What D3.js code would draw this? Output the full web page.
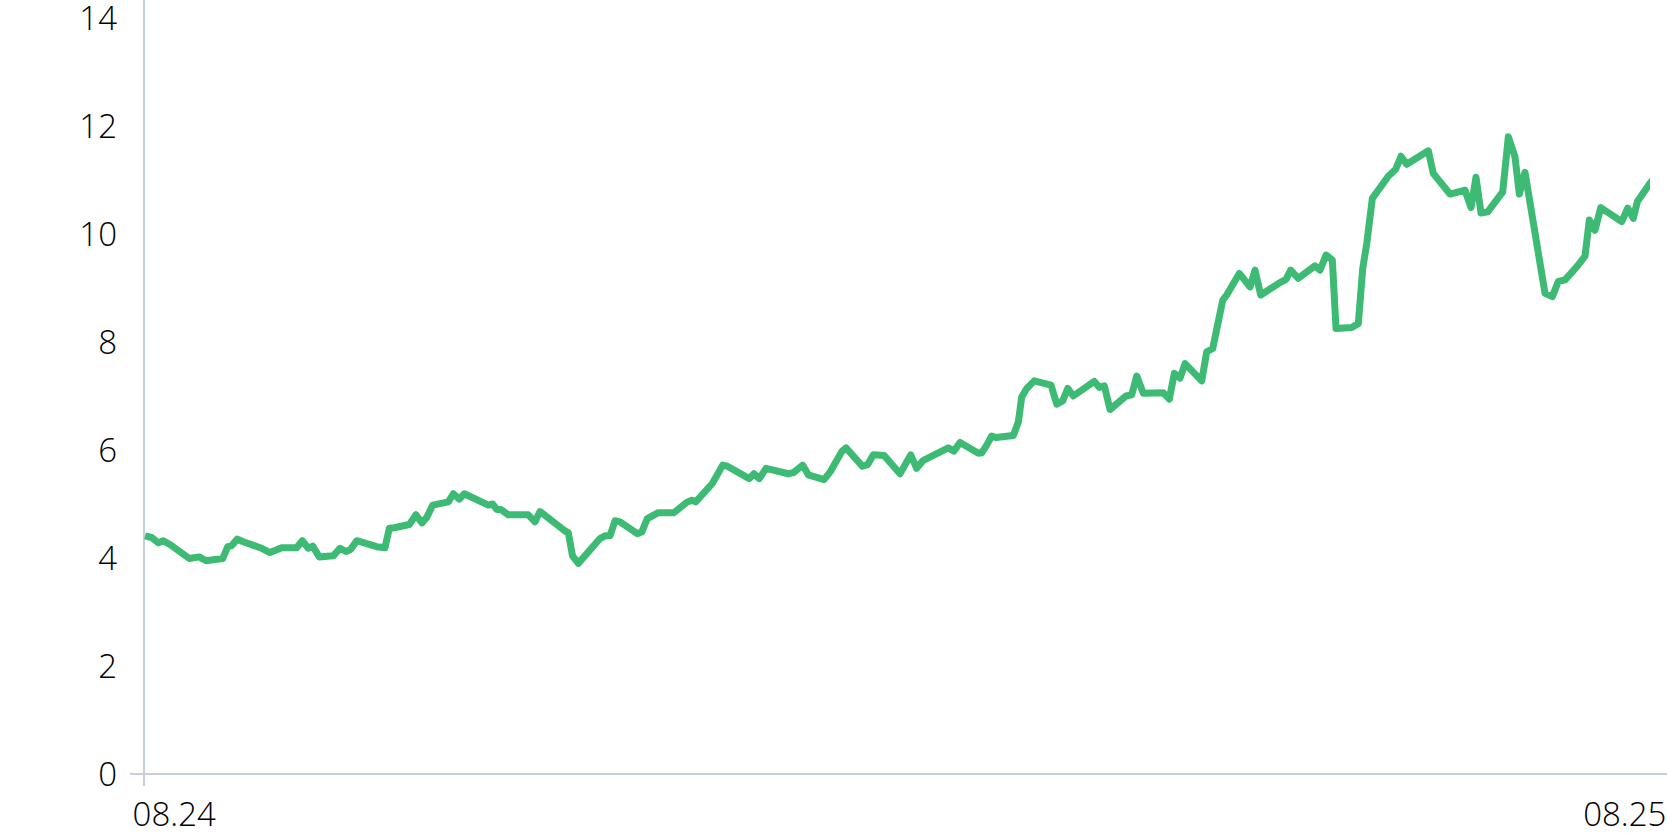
<!DOCTYPE html>
<html>
<head>
<meta charset="utf-8">
<script src="https://cdn.jsdelivr.net/npm/d3@7"></script>
<style>
  html, body { margin: 0; padding: 0; background: #fff; }
  svg { display: block; }
  .tick-label { font-family: "Open Sans", "Noto Sans", sans-serif; font-weight: 300; font-size: 33px; fill: #000; }
</style>
</head>
<body>
<div id="chart"></div>
<script>
// Hours since 08.24 00:00 and the matching values
const hours = [
  -0.483, -0.373, -0.263, -0.181, -0.070, 0.250, 0.415, 0.526, 0.802, 0.885,
  0.951, 1.044, 1.143, 1.447, 1.585, 1.778, 2.026, 2.119, 2.218, 2.291,
  2.400, 2.632, 2.743, 2.842, 2.920, 3.019, 3.350, 3.487, 3.559, 3.641,
  3.890, 4.000, 4.100, 4.177, 4.277, 4.535, 4.618, 4.717, 4.800, 5.197,
  5.269, 5.336, 5.402, 5.527, 5.858, 5.969, 6.052, 6.466, 6.520, 6.590,
  6.686, 7.045, 7.127, 7.210, 7.293, 7.376, 7.662, 7.735, 7.827, 8.009,
  8.269, 8.479, 8.562, 8.628, 8.903, 9.075, 9.151, 9.515, 9.593, 9.680,
  9.791, 10.160, 10.243, 10.398, 10.491, 10.751, 10.850, 11.044, 11.115, 11.385,
  11.474, 11.567, 11.744, 12.008, 12.185, 12.284, 12.394, 12.807, 12.902, 13.001,
  13.304, 13.360, 13.443, 13.525, 13.597, 13.883, 13.966, 14.022, 14.105, 14.230,
  14.507, 14.601, 14.700, 14.783, 14.876, 15.223, 15.306, 15.389, 15.483, 15.748,
  15.842, 15.925, 16.034, 16.365, 16.464, 16.547, 16.641, 16.724, 17.000, 17.083,
  17.182, 17.347, 17.413, 17.622, 17.799, 17.882, 17.976, 18.295, 18.395, 18.472,
  18.598, 18.874, 18.957, 19.057, 19.161, 19.222, 19.482, 19.591, 19.664, 19.730,
  19.823, 20.087, 20.210, 20.297, 20.392, 20.749, 20.832, 21.108, 21.356, 21.456,
  21.538, 21.621, 21.732, 21.980, 22.073, 22.183, 22.255, 22.349, 22.680, 22.801,
  22.900, 23.011, 23.204, 23.342, 23.413, 23.507, 23.602, 23.949, 24.048, 24.141,
  24.208, 24.417, 24.500
];
const values = [
  4.41, 4.38, 4.28, 4.32, 4.25, 3.99, 4.02, 3.95, 3.99, 4.21,
  4.23, 4.35, 4.30, 4.18, 4.10, 4.19, 4.19, 4.32, 4.18, 4.22,
  4.02, 4.04, 4.18, 4.12, 4.16, 4.32, 4.21, 4.19, 4.55, 4.56,
  4.62, 4.80, 4.65, 4.75, 4.98, 5.04, 5.19, 5.09, 5.19, 4.98,
  5.00, 4.90, 4.90, 4.80, 4.80, 4.67, 4.86, 4.50, 4.47, 4.04,
  3.90, 4.36, 4.41, 4.41, 4.69, 4.67, 4.45, 4.48, 4.73, 4.84,
  4.84, 5.03, 5.07, 5.04, 5.38, 5.72, 5.70, 5.47, 5.56, 5.47,
  5.66, 5.56, 5.58, 5.72, 5.54, 5.45, 5.59, 5.97, 6.04, 5.70,
  5.73, 5.91, 5.90, 5.56, 5.91, 5.66, 5.81, 6.04, 5.98, 6.14,
  5.94, 5.95, 6.09, 6.26, 6.23, 6.27, 6.52, 6.98, 7.14, 7.28,
  7.20, 6.85, 6.91, 7.14, 7.00, 7.27, 7.16, 7.19, 6.75, 7.00,
  7.02, 7.37, 7.05, 7.06, 6.94, 7.42, 7.33, 7.60, 7.28, 7.82,
  7.88, 8.77, 8.87, 9.27, 9.02, 9.33, 8.87, 9.10, 9.16, 9.33,
  9.18, 9.41, 9.33, 9.61, 9.52, 8.25, 8.27, 8.34, 9.36, 9.82,
  10.66, 11.07, 11.20, 11.44, 11.29, 11.54, 11.12, 10.74, 10.81, 10.49,
  11.05, 10.39, 10.41, 10.78, 11.80, 11.43, 10.74, 11.14, 8.90, 8.84,
  9.12, 9.15, 9.39, 9.59, 10.26, 10.07, 10.49, 10.23, 10.48, 10.29,
  10.60, 10.94, 11.05
];
const yTicks = [0, 2, 4, 6, 8, 10, 12, 14];
const xTickHours = [0, 24];
const xTickLabels = ["08.24", "08.25"];

const width = 1667;
const height = 833;
const margin = { top: 18, right: 17, bottom: 59, left: 144 };

const data = hours.map((h, i) => ({ h: h, v: values[i] }));

const xScale = d3.scaleLinear()
  .domain([-0.5, 24.417])
  .range([margin.left, width - margin.right]);

const yScale = d3.scaleLinear()
  .domain([0, 14])
  .range([height - margin.bottom, margin.top]);

const svg = d3.select("#chart")
  .append("svg")
  .attr("width", width)
  .attr("height", height);

const axisColor = "#c6cfd9";

// y axis line
svg.append("line")
  .attr("x1", margin.left).attr("x2", margin.left)
  .attr("y1", 0).attr("y2", yScale(0) + 12)
  .attr("stroke", axisColor)
  .attr("stroke-width", 2);

// x axis line
svg.append("line")
  .attr("x1", margin.left - 14).attr("x2", width)
  .attr("y1", yScale(0)).attr("y2", yScale(0))
  .attr("stroke", axisColor)
  .attr("stroke-width", 2);

// y tick labels
svg.append("g")
  .selectAll("text")
  .data(yTicks)
  .join("text")
  .attr("class", "tick-label")
  .attr("x", margin.left - 27)
  .attr("y", d => yScale(d))
  .attr("dy", "0.36em")
  .attr("text-anchor", "end")
  .text(d => d);

// x tick labels
svg.append("g")
  .selectAll("text")
  .data(xTickHours)
  .join("text")
  .attr("class", "tick-label")
  .attr("x", d => xScale(d))
  .attr("y", yScale(0) + 52)
  .attr("text-anchor", "middle")
  .text((d, i) => xTickLabels[i]);

svg.append("clipPath")
  .attr("id", "plot-clip")
  .append("rect")
  .attr("x", margin.left)
  .attr("y", 0)
  .attr("width", xScale(24.417) - margin.left)
  .attr("height", height);

const line = d3.line()
  .x(d => xScale(d.h))
  .y(d => yScale(d.v));

svg.append("path")
  .datum(data)
  .attr("clip-path", "url(#plot-clip)")
  .attr("fill", "none")
  .attr("stroke", "#3dbb74")
  .attr("stroke-width", 7)
  .attr("stroke-linejoin", "round")
  .attr("d", line);
</script>
</body>
</html>
